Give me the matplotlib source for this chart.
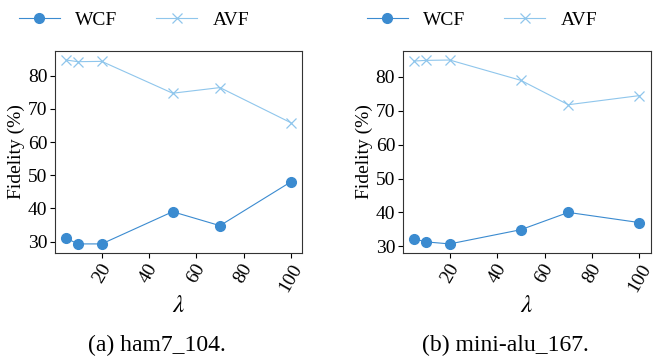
import matplotlib.pyplot as plt

plt.rcParams["font.family"] = ["Liberation Serif", "DejaVu Serif"]
plt.rcParams["mathtext.fontset"] = "stix"

lam = [5, 10, 20, 50, 70, 100]

# (a) ham7_104
wcf_a = [31.0, 29.3, 29.3, 39.0, 34.8, 48.0]
avf_a = [84.7, 84.2, 84.3, 74.7, 76.4, 65.8]

# (b) mini-alu_167
wcf_b = [32.2, 31.3, 30.7, 34.9, 40.0, 37.0]
avf_b = [84.7, 84.9, 85.0, 79.0, 71.8, 74.5]

panels = [
    ("(a) ham7_104.", wcf_a, avf_a),
    ("(b) mini-alu_167.", wcf_b, avf_b),
]

wcf_color = "#3b8bd0"
avf_color = "#8fc6ec"

fig = plt.figure(figsize=(6.54, 3.58), dpi=100)
boxes = [[0.084, 0.293, 0.378, 0.565], [0.616, 0.293, 0.379, 0.565]]
caption_x = [0.24, 0.772]

for box, cx, (cap, wcf, avf) in zip(boxes, caption_x, panels):
    ax = fig.add_axes(box)
    ax.plot(lam, wcf, color=wcf_color, marker="o", markersize=7, lw=0.8, label="WCF")
    ax.plot(lam, avf, color=avf_color, marker="x", markersize=7, lw=0.8,
            markeredgewidth=0.9, label="AVF")
    ax.set_xticks([20, 40, 60, 80, 100])
    ax.set_yticks([30, 40, 50, 60, 70, 80])
    ax.tick_params(axis="x", labelrotation=60, labelsize=14, length=3.5, width=0.8, pad=2)
    ax.tick_params(axis="y", labelsize=14, length=3.5, width=0.8, pad=2)
    for lbl in ax.get_xticklabels():
        lbl.set_ha("center")
    for s in ax.spines.values():
        s.set_linewidth(0.8)
        s.set_color("#333333")
    ax.set_xlabel(r"$\lambda$", fontsize=18, labelpad=0)
    ax.set_ylabel("Fidelity (%)", fontsize=14, labelpad=2)
    ax.legend(loc="lower center", bbox_to_anchor=(0.32, 1.07), ncol=2, frameon=False,
              fontsize=14, handlelength=2.1, handletextpad=0.8, columnspacing=2.0,
              borderaxespad=0)
    fig.text(cx, 0.035, cap, ha="center", va="center", fontsize=17)

fig.savefig("out.png", dpi=100)
